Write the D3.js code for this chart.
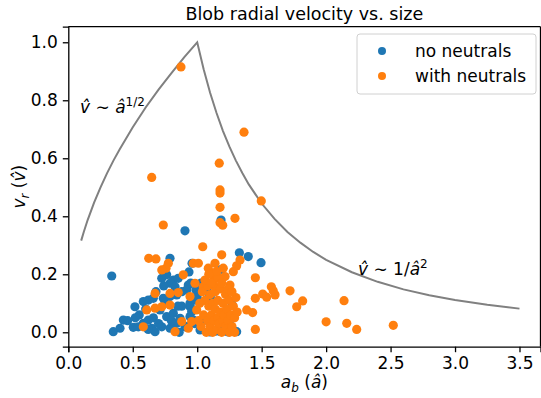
<!doctype html>
<html>
<head>
<meta charset="utf-8">
<title>Blob radial velocity vs. size</title>
<script src="https://cdn.jsdelivr.net/npm/d3@7"></script>
<style>
  body { margin: 0; background: #fff; }
  svg text { font-family: "DejaVu Sans", sans-serif; fill: #000; }
</style>
</head>
<body>
<div id="chart"></div>
<script>
// blob size a_b and radial velocity v_r
var noNeutralsA = [1.185, 0.905, 0.337, 1.327, 1.396, 1.495, 0.789, 0.960, 1.190, 0.725, 0.763, 0.815, 0.853, 0.931, 0.918,
  0.517, 0.582, 0.621, 0.659, 0.427, 0.401, 0.349, 0.504, 0.543, 0.582, 0.621, 0.647, 0.673, 0.737, 0.789, 0.841,
  0.711, 0.763, 0.815, 0.867, 0.725, 0.789, 0.841, 0.905, 0.944, 0.970, 0.944, 0.983, 1.022, 1.099, 1.177, 1.241,
  1.306, 0.944, 0.957, 0.970, 1.060, 1.254, 1.115, 1.272, 0.990, 0.936, 0.789, 0.828, 1.140, 1.210, 1.080, 0.880,
  0.55, 0.60, 0.66, 0.70, 0.75, 0.80, 0.85, 0.88, 0.92, 0.98, 0.68, 0.74, 0.46, 0.52, 0.95, 1.03, 1.00, 0.86, 0.62];
var noNeutralsV = [0.387, 0.350, 0.194, 0.274, 0.261, 0.240, 0.255, 0.238, 0.217, 0.186, 0.198, 0.180, 0.186, 0.163, 0.146,
  0.088, 0.106, 0.111, 0.117, 0.042, 0.014, 0.002, 0.017, 0.019, 0.031, 0.042, 0.014, 0.002, 0.117, 0.123, 0.129,
  0.077, 0.054, 0.066, 0.048, 0.019, 0.014, 0.031, 0.019, 0.054, 0.077, 0.100, 0.111, 0.008, 0.001, 0.003, 0.001,
  0.002, 0.088, 0.071, 0.042, 0.042, 0.025, 0.111, 0.094, 0.146, 0.208, 0.169, 0.157, 0.004, 0.006, 0.140, 0.090,
  0.06, 0.08, 0.05, 0.03, 0.10, 0.04, 0.09, 0.14, 0.02, 0.03, 0.14, 0.16, 0.04, 0.05, 0.17, 0.17, 0.12, 0.00, 0.01];

var withNeutralsA = [0.874, 1.363, 1.497, 1.171, 0.647, 1.177, 1.177, 1.177, 1.293, 1.177, 1.198, 0.737, 1.043, 0.624,
  0.680, 1.190, 1.332, 1.306, 1.280, 0.776, 0.758, 0.725, 0.892, 1.451, 1.575, 1.590, 1.508, 1.539, 1.451, 1.430,
  1.384, 1.451, 0.673, 0.608, 0.673, 0.725, 0.789, 0.789, 0.853, 0.582, 0.828, 0.880, 0.931, 0.957, 0.983, 0.944,
  0.996, 0.970, 1.009, 1.138, 1.086, 1.125, 1.202, 1.216, 1.047, 1.138, 1.254, 1.604, 1.720, 1.772, 1.818, 2.139,
  2.000, 2.160, 2.237, 2.521,
  1.03, 1.05, 1.06, 1.07, 1.08, 1.09, 1.10, 1.10, 1.11, 1.12, 1.12, 1.13, 1.14, 1.14, 1.15, 1.16, 1.16, 1.17, 1.18,
  1.18, 1.19, 1.20, 1.20, 1.21, 1.22, 1.22, 1.23, 1.24, 1.25, 1.25, 1.26, 1.27, 1.28, 1.29, 1.30, 1.04, 1.08, 1.13,
  1.06, 1.02, 1.01, 1.24, 1.29, 1.27, 1.31, 1.11, 1.16, 1.19, 1.15, 1.09];
var withNeutralsV = [0.915, 0.690, 0.453, 0.583, 0.534, 0.491, 0.480, 0.431, 0.393, 0.378, 0.369, 0.370, 0.295, 0.255,
  0.253, 0.267, 0.249, 0.229, 0.209, 0.238, 0.221, 0.215, 0.198, 0.188, 0.157, 0.143, 0.132, 0.121, 0.117, 0.068,
  0.077, 0.010, 0.134, 0.077, 0.083, 0.088, 0.094, 0.134, 0.137, 0.019, 0.002, 0.037, 0.014, 0.037, 0.169, 0.123,
  0.077, 0.238, 0.238, 0.238, 0.221, 0.203, 0.221, 0.192, 0.157, 0.157, 0.163, 0.129, 0.143, 0.088, 0.108, 0.109,
  0.036, 0.031, 0.010, 0.024,
  0.02, 0.06, 0.11, 0.00, 0.04, 0.09, 0.13, 0.02, 0.06, 0.00, 0.10, 0.04, 0.08, 0.14, 0.01, 0.05, 0.11, 0.03, 0.07,
  0.15, 0.00, 0.04, 0.10, 0.06, 0.02, 0.13, 0.08, 0.04, 0.00, 0.11, 0.06, 0.02, 0.09, 0.05, 0.12, 0.14, 0.16, 0.18,
  0.18, 0.10, 0.04, 0.15, 0.00, 0.14, 0.07, 0.17, 0.19, 0.17, 0.21, 0.20];

// scaling-law guide line (v ~ a^1/2 below a=1, v ~ 1/a^2 above)
var guideA = [0.1, 0.12, 0.15, 0.2, 0.25, 0.3, 0.35, 0.4, 0.5, 0.6, 0.7, 0.8, 0.9, 1.0, 1.05, 1.1, 1.15, 1.2, 1.25, 1.3,
  1.35, 1.4, 1.5, 1.6, 1.7, 1.8, 1.9, 2.0, 2.2, 2.4, 2.6, 2.8, 3.0, 3.25, 3.5];
var guideV = [0.316, 0.346, 0.387, 0.447, 0.500, 0.548, 0.592, 0.632, 0.707, 0.775, 0.837, 0.894, 0.949, 1.0, 0.907,
  0.826, 0.756, 0.694, 0.640, 0.592, 0.549, 0.510, 0.444, 0.391, 0.346, 0.309, 0.277, 0.250, 0.207, 0.174, 0.148,
  0.128, 0.111, 0.0947, 0.0816];

var xTicks = [0, 0.5, 1.0, 1.5, 2.0, 2.5, 3.0, 3.5];
var yTicks = [0, 0.2, 0.4, 0.6, 0.8, 1.0];
var seriesNames = ["no neutrals", "with neutrals"];
var seriesColors = ["#1f77b4", "#ff7f0e"];

var W = 541, H = 398;
var pLeft = 68.3, pRight = 540.5, pTop = 26.7, pBottom = 346.7;
var fs = 17;

var svg = d3.select("#chart").append("svg")
  .attr("width", W).attr("height", H);

var x = d3.scaleLinear().domain([0, 3.663]).range([pLeft, pRight]);
var y = d3.scaleLinear().domain([-0.0497, 1.0537]).range([pBottom, pTop]);

// guide curve
var line = d3.line()
  .x(function(d, i) { return x(guideA[i]); })
  .y(function(d, i) { return y(guideV[i]); });
svg.append("path")
  .datum(guideA)
  .attr("d", line)
  .attr("fill", "none")
  .attr("stroke", "#808080")
  .attr("stroke-width", 2);

// scatter: blue first, orange on top
var sets = [[noNeutralsA, noNeutralsV], [withNeutralsA, withNeutralsV]];
sets.forEach(function(s, k) {
  svg.append("g").selectAll("circle")
    .data(s[0])
    .enter().append("circle")
    .attr("cx", function(d) { return x(d); })
    .attr("cy", function(d, i) { return y(s[1][i]); })
    .attr("r", 4.6)
    .attr("fill", seriesColors[k]);
});

// axes
var xAxis = svg.append("g")
  .attr("transform", "translate(0," + pBottom + ")")
  .call(d3.axisBottom(x).tickValues(xTicks).tickFormat(d3.format(".1f")).tickSizeOuter(0).tickSize(5.5).tickPadding(5));
var yAxis = svg.append("g")
  .attr("transform", "translate(" + pLeft + ",0)")
  .call(d3.axisLeft(y).tickValues(yTicks).tickFormat(d3.format(".1f")).tickSizeOuter(0).tickSize(5.5).tickPadding(5));
[xAxis, yAxis].forEach(function(a) {
  a.selectAll("text").attr("font-family", "DejaVu Sans").attr("font-size", fs).attr("fill", "#000");
  a.selectAll("line").attr("stroke", "#000").attr("stroke-width", 1.3);
  a.select(".domain").attr("stroke", "#000").attr("stroke-width", 1.3);
});

// top and right spines
svg.append("line").attr("x1", pLeft).attr("x2", pRight).attr("y1", pTop).attr("y2", pTop)
  .attr("stroke", "#000").attr("stroke-width", 1.3);
svg.append("line").attr("x1", pRight).attr("x2", pRight).attr("y1", pTop).attr("y2", pBottom)
  .attr("stroke", "#000").attr("stroke-width", 1.3);

// title
svg.append("text")
  .attr("x", (pLeft + pRight) / 2).attr("y", 20)
  .attr("text-anchor", "middle")
  .attr("font-size", 17.5)
  .text("Blob radial velocity vs. size");

// x label: a_b (â)
var xl = svg.append("text")
  .attr("x", (pLeft + pRight) / 2).attr("y", 388)
  .attr("text-anchor", "middle")
  .attr("font-size", fs);
xl.append("tspan").attr("font-style", "italic").text("a");
xl.append("tspan").attr("font-style", "italic").attr("font-size", 12).attr("dy", 4).text("b");
xl.append("tspan").attr("dy", -4).text(" (");
xl.append("tspan").attr("font-style", "italic").text("â");
xl.append("tspan").text(")");

// y label: v_r (v̂)
var yl = svg.append("text")
  .attr("transform", "translate(25," + ((pTop + pBottom) / 2) + ") rotate(-90)")
  .attr("text-anchor", "middle")
  .attr("font-size", fs);
yl.append("tspan").attr("font-style", "italic").text("v");
yl.append("tspan").attr("font-style", "italic").attr("font-size", 12).attr("dy", 4).text("r");
yl.append("tspan").attr("dy", -4).text(" (");
yl.append("tspan").attr("font-style", "italic").text("v\u0302");
yl.append("tspan").text(")");

// annotations
var n1 = svg.append("text").attr("x", 80).attr("y", 113).attr("font-size", fs);
n1.append("tspan").attr("font-style", "italic").text("v\u0302");
n1.append("tspan").text(" \u223c ");
n1.append("tspan").attr("font-style", "italic").text("â");
n1.append("tspan").attr("font-size", 12).attr("dy", -7).text("1/2");

var n2 = svg.append("text").attr("x", 358).attr("y", 275).attr("font-size", fs);
n2.append("tspan").attr("font-style", "italic").text("v\u0302");
n2.append("tspan").text(" \u223c 1/");
n2.append("tspan").attr("font-style", "italic").text("â");
n2.append("tspan").attr("font-size", 12).attr("dy", -7).text("2");

// legend
var lg = svg.append("g");
lg.append("rect")
  .attr("x", 357).attr("y", 34).attr("width", 179).attr("height", 60)
  .attr("rx", 3)
  .attr("fill", "#fff").attr("fill-opacity", 0.8)
  .attr("stroke", "#d0d0d0");
seriesNames.forEach(function(name, i) {
  lg.append("circle").attr("cx", 382).attr("cy", 51 + i * 25).attr("r", 4)
    .attr("fill", seriesColors[i]);
  lg.append("text").attr("x", 415).attr("y", 57 + i * 25)
    .attr("font-size", fs).text(name);
});
</script>
</body>
</html>
